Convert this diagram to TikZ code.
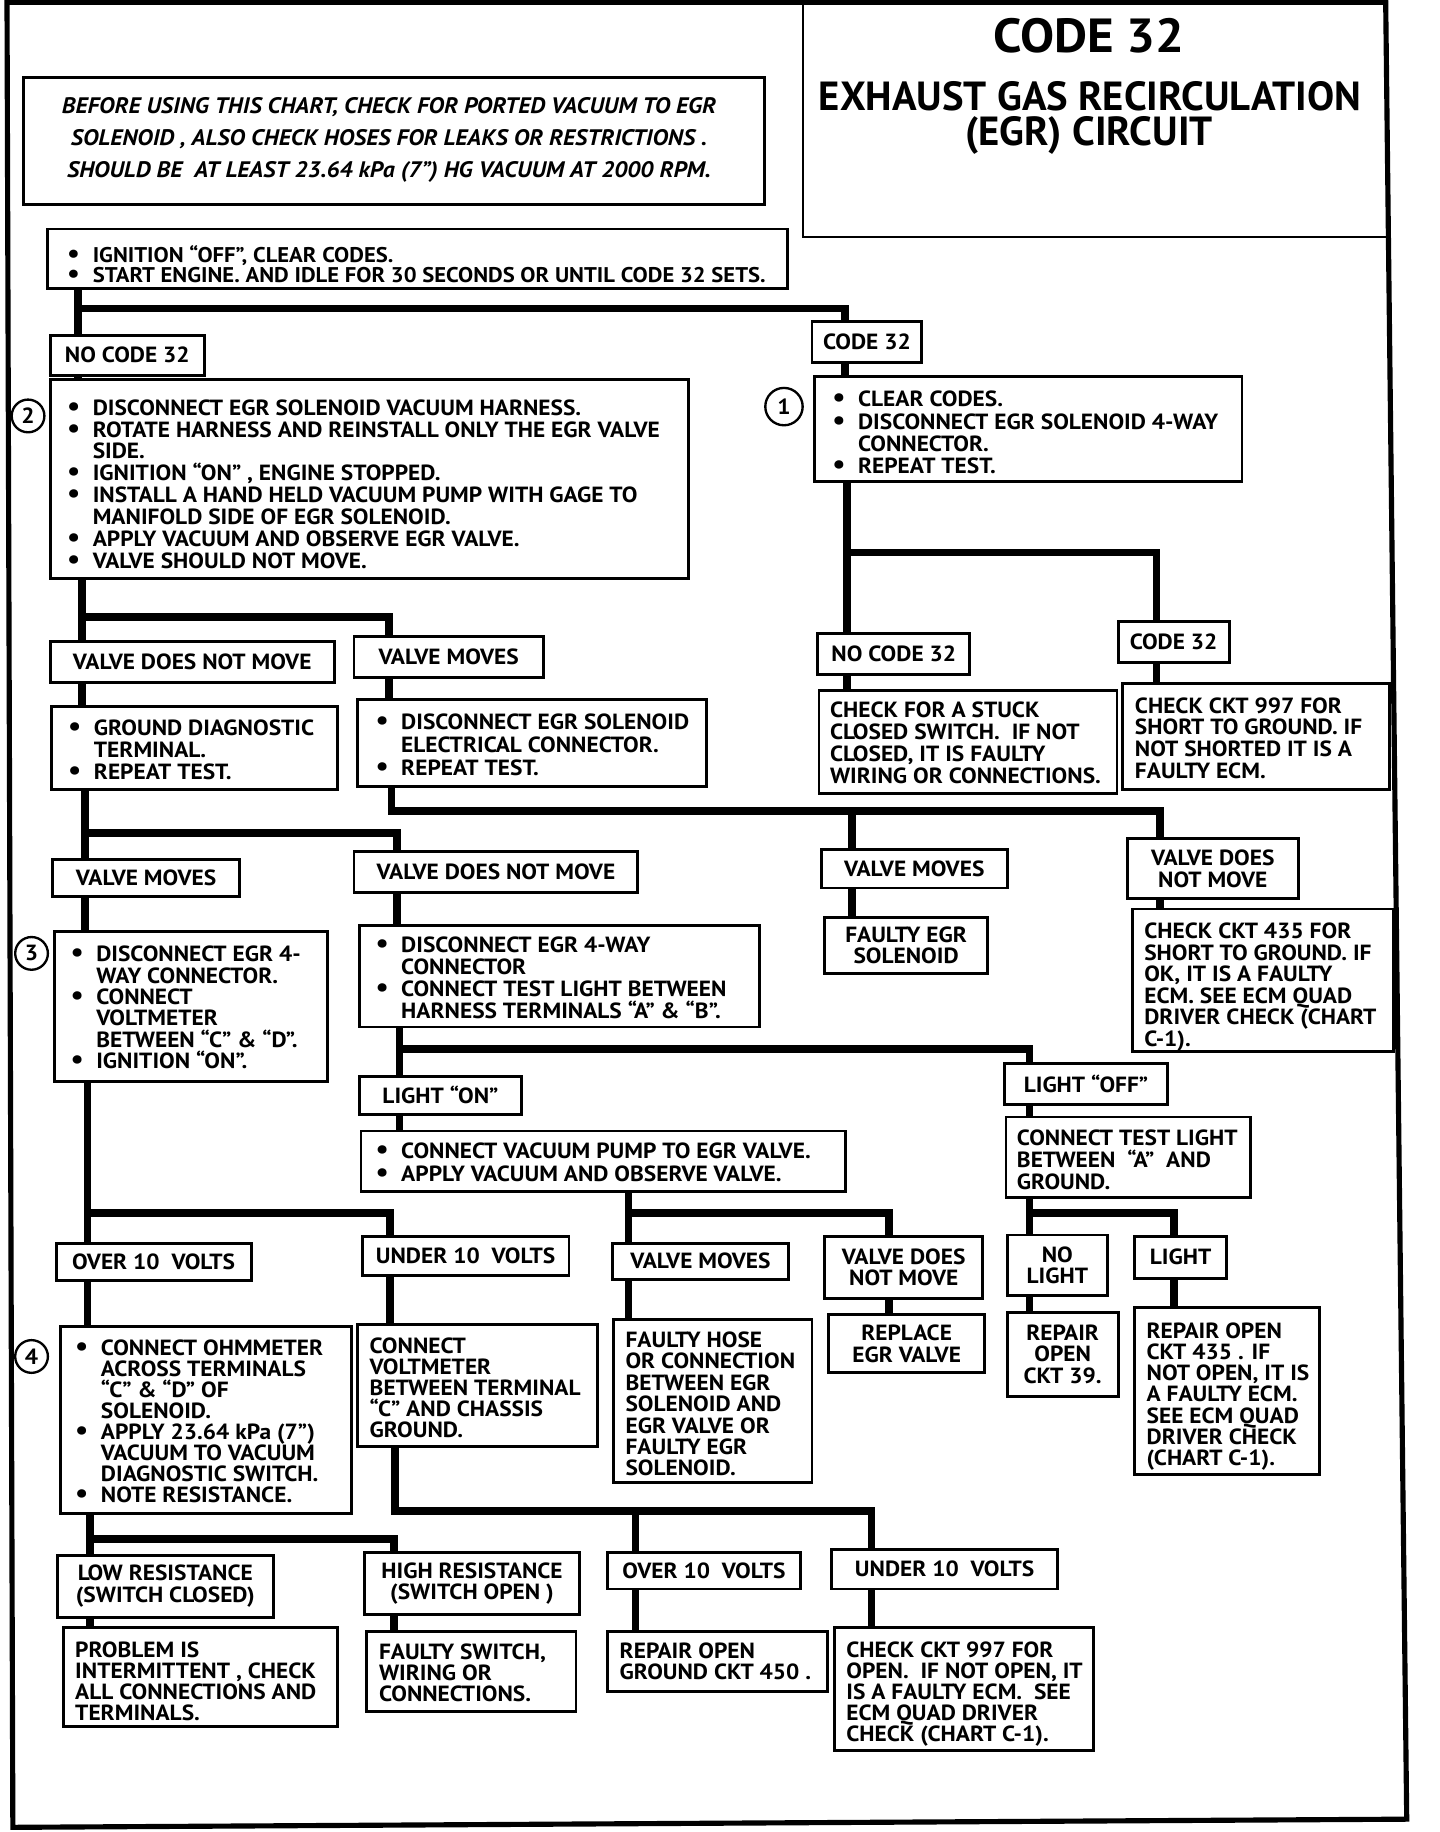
\documentclass[tikz,border=0pt]{standalone}
\usepackage{fontspec}
\setmainfont{PT Sans}
\newfontfamily\bodyf{PT Sans}[FakeStretch=1.065]
\usetikzlibrary{fit}
\newcommand\bu{\makebox[11pt][l]{\scalebox{1.25}{\textbullet}}}
\newcommand\ind{\hspace*{11pt}}
\newcommand\fsz[1]{\bodyf\fontsize{9.4pt}{#1pt}\selectfont\bfseries}
\newcommand\bx[3]{\node[box, fit={#2 #3}] (#1) {};}
\newcommand\lb[4]{\node[box, fit={#2 #3}] (#1) {};\node[lbl] (#1-t) at (#1.center) {#4};}
\begin{document}
\begin{tikzpicture}[x=0.5pt,y=-0.5pt,
  box/.style={draw, line width=1.25pt, inner sep=0pt, rectangle},
  conn/.style={line width=3.25pt, line join=miter},
  lbl/.style={inner sep=0pt, align=center, font=\fsz{9.2}},
  ltxt/.style={inner sep=0pt, align=left, anchor=north west, font=\fsz{#1}},
  num/.style={draw, circle, line width=1pt, inner sep=0pt, font=\fsz{9}}]
\useasboundingbox (0,0) rectangle (1232,1568);
% outer frame
\draw[line width=2.2pt, line join=miter] (6,2) -- (1186,2) -- (1204,1557) -- (11,1564) -- cycle;
% title
\node[draw, line width=1pt, inner sep=0pt, fit={(687,2) (1187,203)}] (title) {};
\node[inner sep=0pt, font=\bodyf\fontsize{20.5pt}{21pt}\selectfont\bfseries] (t1) at (932,31) {CODE 32};
\node[inner sep=0pt, font=\fontsize{17.4pt}{18pt}\selectfont\bfseries] (t2) at (933,82) {EXHAUST GAS RECIRCULATION};
\node[inner sep=0pt, font=\fontsize{17.4pt}{18pt}\selectfont\bfseries] (t3) at (932,116) {(EGR) CIRCUIT};
% note
\bx{note}{(20,66)}{(654,175)}
\node[inner sep=0pt, align=center, font=\bodyf\fontsize{9.6pt}{13.75pt}\selectfont\bfseries\itshape] (note-t) at (333,120)
 {BEFORE USING THIS CHART, CHECK FOR PORTED VACUUM TO EGR\\
  SOLENOID , ALSO CHECK HOSES FOR LEAKS OR RESTRICTIONS .\\
  SHOULD BE\ \ AT LEAST 23.64 kPa (7”) HG VACUUM AT 2000 RPM.};
% ignition
\bx{ign}{(41,196)}{(674,247)}
\node[inner sep=0pt, align=left, anchor=north west, font=\bodyf\fontsize{9.1pt}{8.6pt}\selectfont\bfseries] (ign-t) at (57,209.5) {\bu IGNITION “OFF”, CLEAR CODES.\\ \bu START ENGINE. AND IDLE FOR 30 SECONDS OR UNTIL CODE 32 SETS.};
\coordinate (j1) at (67,264); \coordinate (j1r) at (723,264);
\lb{nc32a}{(43,287)}{(175,321)}{NO CODE 32}
\lb{c32a}{(695,275)}{(789,310)}{CODE 32}
% box 2
\bx{b2}{(43,325)}{(589,495)}
\node[num, minimum size=14pt] (n2) at (24,356) {2};
\node[ltxt=9.35] (b2-t) at (57,341.5) {\bu DISCONNECT EGR SOLENOID VACUUM HARNESS.\\
 \bu ROTATE HARNESS AND REINSTALL ONLY THE EGR VALVE\\
 \ind SIDE.\\
 \bu IGNITION “ON” , ENGINE STOPPED.\\
 \bu INSTALL A HAND HELD VACUUM PUMP WITH GAGE TO\\
 \ind MANIFOLD SIDE OF EGR SOLENOID.\\
 \bu APPLY VACUUM AND OBSERVE EGR VALVE.\\
 \bu VALVE SHOULD NOT MOVE.};
% box 1
\bx{b1}{(697,322)}{(1063,412)}
\node[num, minimum size=16pt] (n1) at (671,348) {1};
\node[ltxt=9.5] (b1-t) at (712,334.5) {\bu CLEAR CODES.\\
 \bu DISCONNECT EGR SOLENOID 4-WAY\\
 \ind CONNECTOR.\\
 \bu REPEAT TEST.};
\coordinate (j2) at (725,473); \coordinate (j2r) at (990,473);
\lb{nc32b}{(700,542)}{(830,577)}{NO CODE 32}
\lb{c32b}{(957,532)}{(1052,567)}{CODE 32}
\bx{stuck}{(701,591)}{(956,679)}
\node[ltxt=9.35] (stuck-t) at (710,600.5) {CHECK FOR A STUCK\\ CLOSED SWITCH.\ \ IF NOT\\ CLOSED, IT IS FAULTY\\ WIRING OR CONNECTIONS.};
\bx{ck997}{(961,585)}{(1189,676)}
\node[ltxt=9.3] (ck997-t) at (971,596.5) {CHECK CKT 997 FOR\\ SHORT TO GROUND. IF\\ NOT SHORTED IT IS A\\ FAULTY ECM.};
% row 3
\coordinate (j3) at (70,528); \coordinate (j3r) at (333,528);
\lb{vdnm1}{(43,549)}{(286,584)}{VALVE DOES NOT MOVE}
\lb{vm1}{(303,545)}{(465,580)}{VALVE MOVES}
\bx{gd}{(44,605)}{(289,676)}
\node[ltxt=9.5] (gd-t) at (58,615.5) {\bu GROUND DIAGNOSTIC\\ \ind TERMINAL.\\ \bu REPEAT TEST.};
\bx{des}{(306,599)}{(605,673)}
\node[ltxt=9.75] (des-t) at (321,610.5) {\bu DISCONNECT EGR SOLENOID\\ \ind ELECTRICAL CONNECTOR.\\ \bu REPEAT TEST.};
\coordinate (j4) at (335,694); \coordinate (j4m) at (729,694); \coordinate (j4r) at (993,694);
\lb{vm2}{(703,727)}{(862,760)}{VALVE MOVES}
\lb{vdnm2}{(965,718)}{(1111,769)}{VALVE DOES\\NOT MOVE}
\lb{fes}{(706,785)}{(845,833)}{FAULTY EGR\\SOLENOID}
\bx{c435}{(969,778)}{(1193,900)}
\node[ltxt=9.2] (c435-t) at (979,789.5) {CHECK CKT 435 FOR\\ SHORT TO GROUND. IF\\ OK,\ IT IS A FAULTY\\ ECM. SEE ECM QUAD\\ DRIVER CHECK (CHART\\ C-1).};
% row 4
\coordinate (j5) at (73,713); \coordinate (j5r) at (340,713);
\lb{vm3}{(45,736)}{(205,767)}{VALVE MOVES}
\lb{vdnm3}{(303,729)}{(546,764)}{VALVE DOES NOT MOVE}
\bx{b3}{(47,797)}{(280,926)}
\node[num, minimum size=14pt] (n3) at (27,816) {3};
\node[ltxt=9.1] (b3-t) at (60,809.5) {\bu DISCONNECT EGR 4-\\ \ind WAY CONNECTOR.\\ \bu CONNECT\\ \ind VOLTMETER\\ \ind BETWEEN “C” \& “D”.\\ \bu IGNITION “ON”.};
\bx{b4w}{(308,792)}{(650,879)}
\node[ltxt=9.35] (b4w-t) at (321,801.5) {\bu DISCONNECT EGR 4-WAY\\ \ind CONNECTOR\\ \bu CONNECT TEST LIGHT BETWEEN\\ \ind HARNESS TERMINALS “A” \& “B”.};
\coordinate (j6) at (342,898); \coordinate (j6r) at (881,898);
\lb{lon}{(308,921)}{(446,954)}{LIGHT “ON”}
\lb{loff}{(860,910)}{(999,945)}{LIGHT “OFF”}
\bx{vp}{(309,968)}{(724,1020)}
\node[ltxt=10] (vp-t) at (321,977.5) {\bu CONNECT VACUUM PUMP TO EGR VALVE.\\ \bu APPLY VACUUM AND OBSERVE VALVE.};
\bx{tl}{(861,956)}{(1070,1025)}
\node[ltxt=9.5] (tl-t) at (870,966.5) {CONNECT TEST LIGHT\\ BETWEEN\ \ “A”\ \ AND\\ GROUND.};
\coordinate (j7) at (881,1038); \coordinate (j7r) at (1005,1038);
\lb{nol}{(862,1057)}{(948,1109)}{NO\\LIGHT}
\lb{lgt}{(971,1058)}{(1050,1094)}{LIGHT}
\lb{ro39}{(862,1123)}{(957,1195)}{REPAIR\\OPEN\\CKT 39.}
\bx{ro435}{(971,1119)}{(1129,1262)}
\node[ltxt=9.1] (ro435-t) at (981,1131.5) {REPAIR OPEN\\ CKT 435 . IF\\ NOT OPEN, IT IS\\ A FAULTY ECM.\\ SEE ECM QUAD\\ DRIVER CHECK\\ (CHART C-1).};
\coordinate (j8) at (538,1038); \coordinate (j8r) at (761,1038);
\lb{vm4}{(524,1064)}{(675,1095)}{VALVE MOVES}
\lb{vdnm4}{(706,1058)}{(841,1111)}{VALVE DOES\\NOT MOVE}
\bx{fh}{(525,1129)}{(695,1269)}
\node[ltxt=9.15] (fh-t) at (535,1139.5) {FAULTY HOSE\\ OR CONNECTION\\ BETWEEN EGR\\ SOLENOID AND\\ EGR VALVE OR\\ FAULTY EGR\\ SOLENOID.};
\lb{rev}{(709,1125)}{(843,1175)}{REPLACE\\EGR VALVE}
% row 5
\coordinate (j9) at (75,1038); \coordinate (j9r) at (334,1038);
\lb{ov1}{(48,1064)}{(215,1096)}{OVER 10\ \ VOLTS}
\lb{un1}{(310,1058)}{(487,1092)}{UNDER 10\ \ VOLTS}
\bx{b4}{(52,1135)}{(301,1295)}
\node[num, minimum size=14pt] (n4) at (27,1161) {4};
\node[ltxt=9] (b4-t) at (64,1146.5) {\bu CONNECT OHMMETER\\ \ind ACROSS TERMINALS\\ \ind “C” \& “D” OF\\ \ind SOLENOID.\\ \bu APPLY 23.64 kPa (7”)\\ \ind VACUUM TO VACUUM\\ \ind DIAGNOSTIC SWITCH.\\ \bu NOTE RESISTANCE.};
\bx{cv}{(306,1134)}{(511,1238)}
\node[ltxt=9] (cv-t) at (316,1144.5) {CONNECT\\ VOLTMETER\\ BETWEEN TERMINAL\\ “C” AND CHASSIS\\ GROUND.};
\coordinate (j10) at (338,1293); \coordinate (j10m) at (544,1293); \coordinate (j10r) at (746,1293);
\lb{ov2}{(520,1329)}{(685,1360)}{OVER 10\ \ VOLTS}
\lb{un2}{(712,1326)}{(905,1360)}{UNDER 10\ \ VOLTS}
\bx{ro450}{(520,1396)}{(708,1448)}
\node[ltxt=9] (ro450-t) at (530,1405.5) {REPAIR OPEN\\ GROUND CKT 450 .};
\bx{c997o}{(714,1393)}{(936,1498)}
\node[ltxt=9] (c997o-t) at (724,1404.5) {CHECK CKT 997 FOR\\ OPEN.\ \ IF NOT OPEN, IT\\ IS A FAULTY ECM.\ \ SEE\\ ECM QUAD DRIVER\\ CHECK (CHART C-1).};
\coordinate (j11) at (77,1317); \coordinate (j11r) at (337,1317);
\lb{lr}{(49,1331)}{(234,1384)}{LOW RESISTANCE\\(SWITCH CLOSED)}
\lb{hr}{(312,1329)}{(496,1382)}{HIGH RESISTANCE\\(SWITCH OPEN )}
\bx{pi}{(54,1393)}{(289,1478)}
\node[ltxt=9] (pi-t) at (64,1404.5) {PROBLEM IS\\ INTERMITTENT , CHECK\\ ALL CONNECTIONS AND\\ TERMINALS.};
\bx{fs}{(314,1396)}{(493,1465)}
\node[ltxt=9] (fs-t) at (324,1406.5) {FAULTY SWITCH,\\ WIRING OR\\ CONNECTIONS.};
% connectors
\draw[conn] (ign.south -| j1) -- (nc32a.north -| j1);
\draw[conn] (j1) -- (j1r) -- (c32a.north -| j1r);
\draw[conn] (nc32a.south -| j1) -- (b2.north -| j1);
\draw[conn] (c32a.south -| j1r) -- (b1.north -| j1r);
\draw[conn] (b2.south -| j3) -- (vdnm1.north -| j3);
\draw[conn] (j3) -- (j3r) -- (vm1.north -| j3r);
\draw[conn] (vdnm1.south -| j3) -- (gd.north -| j3);
\draw[conn] (vm1.south -| j3r) -- (des.north -| j3r);
\draw[conn] (b1.south -| j2) -- (nc32b.north -| j2);
\draw[conn] (j2) -- (j2r) -- (c32b.north -| j2r);
\draw[conn] (nc32b.south -| j2) -- (stuck.north -| j2);
\draw[conn] (c32b.south -| j2r) -- (ck997.north -| j2r);
\draw[conn] (des.south -| j4) -- (j4) -- (j4r) -- (vdnm2.north -| j4r);
\draw[conn] (j4m) -- (vm2.north -| j4m);
\draw[conn] (vm2.south -| j4m) -- (fes.north -| j4m);
\draw[conn] (vdnm2.south -| j4r) -- (c435.north -| j4r);
\draw[conn] (gd.south -| j5) -- (vm3.north -| j5);
\draw[conn] (j5) -- (j5r) -- (vdnm3.north -| j5r);
\draw[conn] (vm3.south -| j5) -- (b3.north -| j5);
\draw[conn] (vdnm3.south -| j5r) -- (b4w.north -| j5r);
\draw[conn] (b4w.south -| j6) -- (lon.north -| j6);
\draw[conn] (j6) -- (j6r) -- (loff.north -| j6r);
\draw[conn] (lon.south -| j6) -- (vp.north -| j6);
\draw[conn] (loff.south -| j6r) -- (tl.north -| j6r);
\draw[conn] (vp.south -| j8) -- (vm4.north -| j8);
\draw[conn] (j8) -- (j8r) -- (vdnm4.north -| j8r);
\draw[conn] (vm4.south -| j8) -- (fh.north -| j8);
\draw[conn] (vdnm4.south -| j8r) -- (rev.north -| j8r);
\draw[conn] (tl.south -| j7) -- (nol.north -| j7);
\draw[conn] (j7) -- (j7r) -- (lgt.north -| j7r);
\draw[conn] (nol.south -| j7) -- (ro39.north -| j7);
\draw[conn] (lgt.south -| j7r) -- (ro435.north -| j7r);
\draw[conn] (b3.south -| j9) -- (ov1.north -| j9);
\draw[conn] (j9) -- (j9r) -- (un1.north -| j9r);
\draw[conn] (ov1.south -| j9) -- (b4.north -| j9);
\draw[conn] (un1.south -| j9r) -- (cv.north -| j9r);
\draw[conn] (cv.south -| j10) -- (j10) -- (j10r) -- (un2.north -| j10r);
\draw[conn] (j10m) -- (ov2.north -| j10m);
\draw[conn] (ov2.south -| j10m) -- (ro450.north -| j10m);
\draw[conn] (un2.south -| j10r) -- (c997o.north -| j10r);
\draw[conn] (b4.south -| j11) -- (lr.north -| j11);
\draw[conn] (j11) -- (j11r) -- (hr.north -| j11r);
\draw[conn] (lr.south -| j11) -- (pi.north -| j11);
\draw[conn] (hr.south -| j11r) -- (fs.north -| j11r);
\end{tikzpicture}
\end{document}
